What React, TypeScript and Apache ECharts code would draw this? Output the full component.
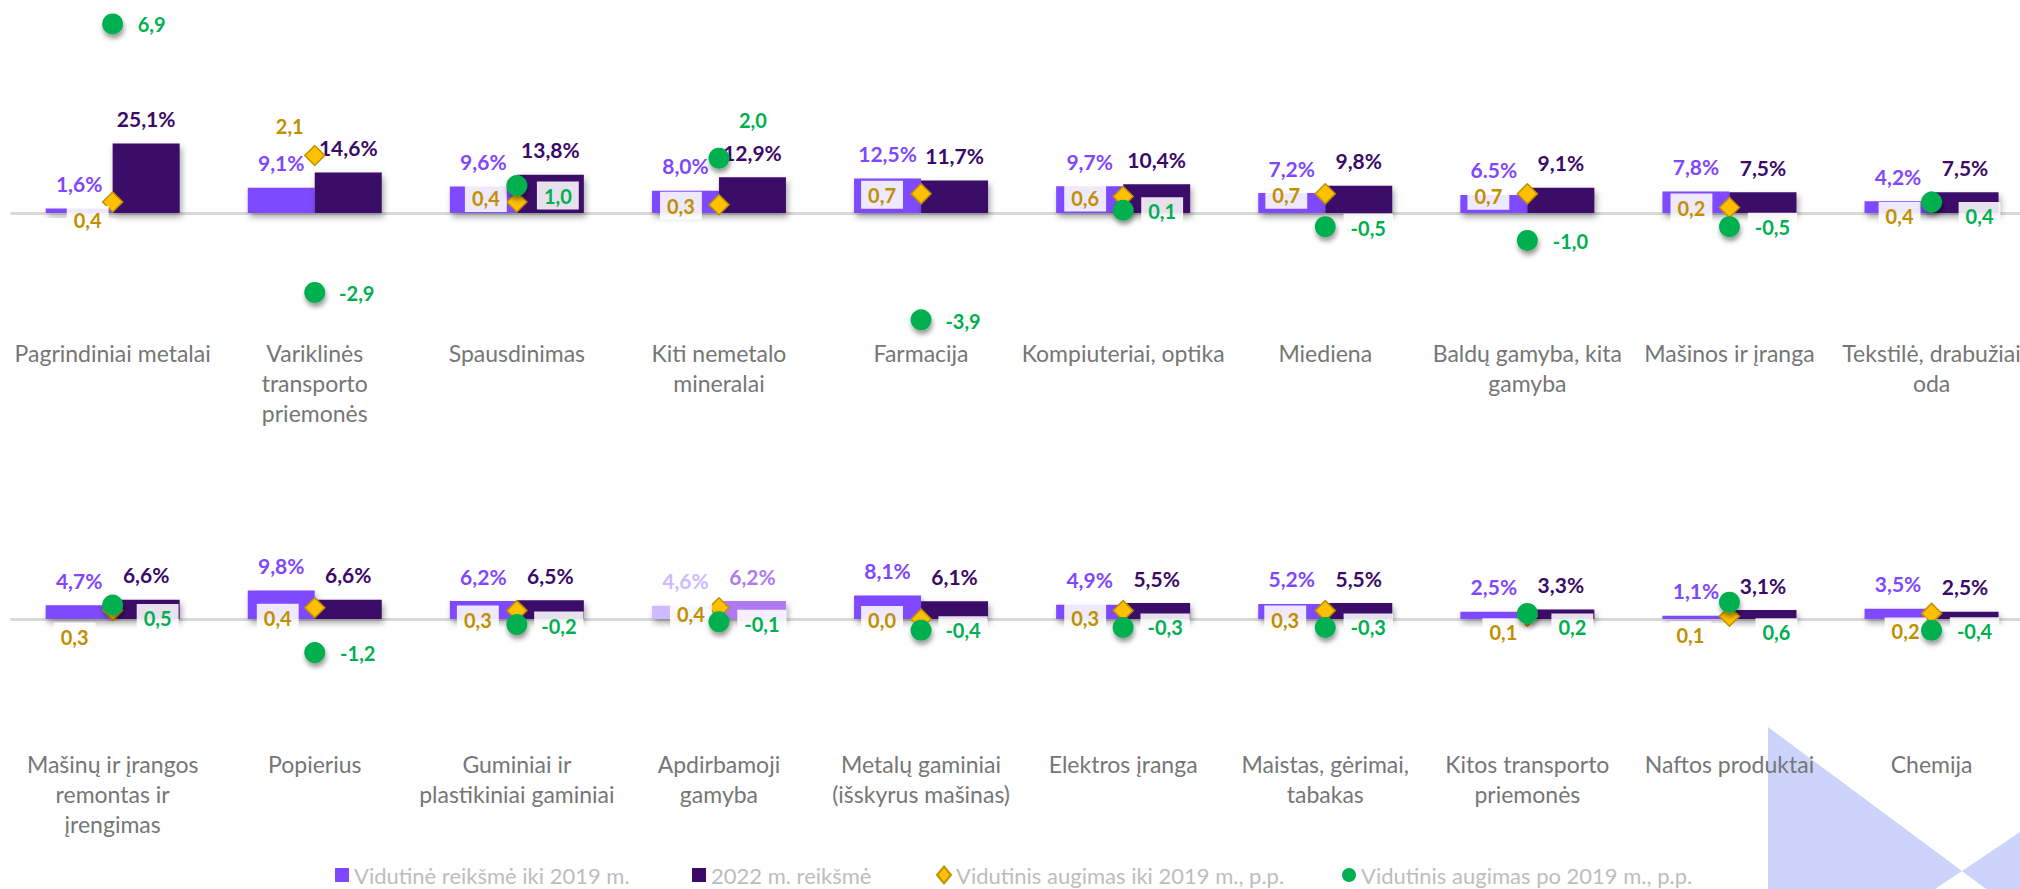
import React, { useEffect, useRef } from "react";
import * as echarts from "echarts";

// ---------- DATA ----------
const categoriesTop = [
  "Pagrindiniai metalai",
  "Variklinės\ntransporto\npriemonės",
  "Spausdinimas",
  "Kiti nemetalo\nmineralai",
  "Farmacija",
  "Kompiuteriai, optika",
  "Miediena",
  "Baldų gamyba, kita\ngamyba",
  "Mašinos ir įranga",
  "Tekstilė, drabužiai\noda",
];
const avgBefore2019Top = [1.6, 9.1, 9.6, 8.0, 12.5, 9.7, 7.2, 6.5, 7.8, 4.2];
const value2022Top = [25.1, 14.6, 13.8, 12.9, 11.7, 10.4, 9.8, 9.1, 7.5, 7.5];
const growthBefore2019Top = [0.4, 2.1, 0.4, 0.3, 0.7, 0.6, 0.7, 0.7, 0.2, 0.4];
const growthAfter2019Top = [6.9, -2.9, 1.0, 2.0, -3.9, 0.1, -0.5, -1.0, -0.5, 0.4];

const categoriesBottom = [
  "Mašinų ir įrangos\nremontas ir\nįrengimas",
  "Popierius",
  "Guminiai ir\nplastikiniai gaminiai",
  "Apdirbamoji\ngamyba",
  "Metalų gaminiai\n(išskyrus mašinas)",
  "Elektros įranga",
  "Maistas, gėrimai,\ntabakas",
  "Kitos transporto\npriemonės",
  "Naftos produktai",
  "Chemija",
];
const avgBefore2019Bottom = [4.7, 9.8, 6.2, 4.6, 8.1, 4.9, 5.2, 2.5, 1.1, 3.5];
const value2022Bottom = [6.6, 6.6, 6.5, 6.2, 6.1, 5.5, 5.5, 3.3, 3.1, 2.5];
const growthBefore2019Bottom = [0.3, 0.4, 0.3, 0.4, 0.0, 0.3, 0.3, 0.1, 0.1, 0.2];
const growthAfter2019Bottom = [0.5, -1.2, -0.2, -0.1, -0.4, -0.3, -0.3, 0.2, 0.6, -0.4];

const seriesNames = [
  "Vidutinė reikšmė iki 2019 m.",
  "2022 m. reikšmė",
  "Vidutinis augimas iki 2019 m., p.p.",
  "Vidutinis augimas po 2019 m., p.p.",
];

const highlightCategory = "Apdirbamoji\ngamyba";
const dotDecimalCategory = "Baldų gamyba, kita\ngamyba";

// ---------- LABEL LAYOUT (offsets of point labels, px) ----------
const diamondLabelOffsetTop = [[-25, 18], [-25, -29], [-31, -4], [-38, 1], [-39, 1], [-38, 1], [-39, 1], [-39, 2], [-38, 0], [-32, 14]];
const circleLabelOffsetTop = [[39, 0], [42, 1], [41, 10], [34, -38], [42, 1], [39, 1], [43, 1], [43, 1], [43, 0], [48, 14]];
const diamondLabelOffsetBottom = [[-38, 26], [-37, 10], [-39, 9], [-28, 6], [-39, 1], [-38, 7], [-40, 9], [-24, 16], [-39, 19], [-26, 18]];
const circleLabelOffsetBottom = [[45, 13], [43, 0], [42, 1], [43, 2], [42, 0], [42, 0], [43, 0], [45, 14], [47, 30], [43, 1]];

// ---------- STYLE ----------
const FONT = "Lato";
const C_LIGHT = "#7F48FF";
const C_DARK = "#3B0A68";
const C_HL_LIGHT = "#CDBBFF";
const C_HL_DARK = "#AF7AF0";
const C_GOLD = "#FFC000";
const C_GOLD_TXT = "#BF9000";
const C_GREEN = "#00B050";

const rows = [
  { top: 7.5, ptsPx: 27.4, barPx: 2.77, labelMargin: 15 },
  { top: 409, ptsPx: 28, barPx: 2.9, labelMargin: 18 },
];
const PTS_MIN = -4;
const PTS_MAX = 7.5;

const comma = (v: number) => v.toFixed(1).replace(".", ",");

function buildOption() {
  const grid: any[] = [];
  const xAxis: any[] = [];
  const yAxis: any[] = [];
  const series: any[] = [];

  const rowData = [
    { cats: categoriesTop, light: avgBefore2019Top, dark: value2022Top, gb: growthBefore2019Top, ga: growthAfter2019Top, dOff: diamondLabelOffsetTop, cOff: circleLabelOffsetTop },
    { cats: categoriesBottom, light: avgBefore2019Bottom, dark: value2022Bottom, gb: growthBefore2019Bottom, ga: growthAfter2019Bottom, dOff: diamondLabelOffsetBottom, cOff: circleLabelOffsetBottom },
  ];

  rows.forEach((r, ri) => {
    const d = rowData[ri];
    const height = (PTS_MAX - PTS_MIN) * r.ptsPx;
    grid.push({ left: 11.6, width: 2021, top: r.top, height, containLabel: false, outerBoundsMode: "none" });
    // label axis
    xAxis.push({
      type: "category",
      gridIndex: ri,
      data: d.cats,
      position: "bottom",
      axisLine: { show: false, onZero: false },
      axisTick: { show: false },
      axisLabel: {
        interval: 0,
        margin: r.labelMargin,
        fontFamily: FONT,
        fontSize: 23,
        lineHeight: 30,
        color: "#767676",
        hideOverlap: false,
      },
      splitLine: { show: false },
    });
    // baseline axis
    xAxis.push({
      type: "category",
      gridIndex: ri,
      data: d.cats,
      axisLine: { show: true, onZero: true, onZeroAxisIndex: ri * 2, lineStyle: { color: "#D9D9D9", width: 3 } },
      axisTick: { show: false },
      axisLabel: { show: false },
      splitLine: { show: false },
    });
    yAxis.push({ type: "value", gridIndex: ri, min: PTS_MIN, max: PTS_MAX, show: false, splitLine: { show: false } });
    yAxis.push({
      type: "value",
      gridIndex: ri,
      min: (PTS_MIN * r.ptsPx) / r.barPx,
      max: (PTS_MAX * r.ptsPx) / r.barPx,
      show: false,
      splitLine: { show: false },
    });

    const barShadow = { shadowColor: "rgba(0,0,0,0.35)", shadowBlur: 6, shadowOffsetX: 2, shadowOffsetY: 4 };
    const barLabel = (color: string) => ({
      show: true,
      position: "top",
      distance: 13,
      fontFamily: FONT,
      fontSize: 21,
      fontWeight: "bold",
      lineHeight: 24,
      color,
    });

    series.push({
      name: seriesNames[0],
      type: "bar",
      xAxisIndex: ri * 2,
      yAxisIndex: ri * 2 + 1,
      barWidth: 67,
      barGap: "0%",
      itemStyle: { color: C_LIGHT, ...barShadow },
      label: {
        ...barLabel(C_LIGHT),
        formatter: (p: any) => (d.cats[p.dataIndex] === dotDecimalCategory ? p.value.toFixed(1) : comma(p.value)) + "%",
      },
      data: d.light.map((v, i) =>
        d.cats[i] === highlightCategory ? { value: v, itemStyle: { color: C_HL_LIGHT }, label: { color: C_HL_LIGHT } } : v
      ),
      z: 2,
    });
    series.push({
      name: seriesNames[1],
      type: "bar",
      xAxisIndex: ri * 2,
      yAxisIndex: ri * 2 + 1,
      barWidth: 67,
      barGap: "0%",
      itemStyle: { color: C_DARK, ...barShadow },
      label: { ...barLabel(C_DARK), formatter: (p: any) => comma(p.value) + "%" },
      data: d.dark.map((v, i) =>
        d.cats[i] === highlightCategory ? { value: v, itemStyle: { color: C_HL_DARK }, label: { color: C_HL_DARK } } : v
      ),
      z: 2,
    });

    const ptLabel = (color: string) => ({
      show: true,
      position: "inside",
      fontFamily: FONT,
      fontSize: 20,
      fontWeight: "bold",
      lineHeight: 22,
      color,
      backgroundColor: "rgba(255,255,255,0.88)",
      padding: [3, 7],
      formatter: (p: any) => comma(p.value),
    });

    series.push({
      name: seriesNames[2],
      type: "scatter",
      xAxisIndex: ri * 2,
      yAxisIndex: ri * 2,
      symbol: "diamond",
      symbolSize: 20,
      itemStyle: { color: C_GOLD, borderColor: C_GOLD_TXT, borderWidth: 1.5, opacity: 1 },
      label: ptLabel(C_GOLD_TXT),
      data: d.gb.map((v, i) => ({ value: v, label: { offset: d.dOff[i] } })),
      z: 4,
    });
    series.push({
      name: seriesNames[3],
      type: "scatter",
      xAxisIndex: ri * 2,
      yAxisIndex: ri * 2,
      symbol: "circle",
      symbolSize: 21,
      itemStyle: { color: C_GREEN, opacity: 1, shadowColor: "rgba(0,0,0,0.4)", shadowBlur: 5, shadowOffsetX: 1, shadowOffsetY: 4 },
      label: ptLabel(C_GREEN),
      data: d.ga.map((v, i) => ({ value: v, label: { offset: d.cOff[i] } })),
      z: 5,
    });
  });

  const legendBase = {
    top: 863,
    padding: 0,
    itemWidth: 14,
    itemHeight: 14,
    selectedMode: false,
    textStyle: { fontFamily: FONT, fontSize: 22, color: "#BDBDBD", lineHeight: 24 },
  };

  return {
    animation: false,
    backgroundColor: "#FFFFFF",
    textStyle: { fontFamily: FONT },
    grid,
    xAxis,
    yAxis,
    series,
    legend: [
      { ...legendBase, left: 335, data: [{ name: seriesNames[0], icon: "rect" }] },
      { ...legendBase, left: 692, data: [{ name: seriesNames[1], icon: "rect" }] },
      { ...legendBase, left: 936, itemWidth: 14, itemHeight: 17, data: [{ name: seriesNames[2], icon: "diamond" }] },
      { ...legendBase, left: 1342, data: [{ name: seriesNames[3], icon: "circle" }] },
    ],
    graphic: [
      {
        type: "polygon",
        z: -10,
        silent: true,
        shape: { points: [[1768, 727], [1962, 871], [1935, 889], [1768, 889]] },
        style: { fill: "#CDD4FC" },
      },
      {
        type: "polygon",
        z: -10,
        silent: true,
        shape: { points: [[1962, 871], [2020, 832], [2020, 889], [1986, 889]] },
        style: { fill: "#CDD4FC" },
      },
    ],
  };
}

export default function App() {
  const ref = useRef<HTMLDivElement>(null);
  useEffect(() => {
    if (!ref.current) return;
    const chart = echarts.init(ref.current, null, { renderer: "svg" });
    chart.setOption(buildOption() as any);
    return () => chart.dispose();
  }, []);
  return <div ref={ref} style={{ position: "fixed", left: 0, top: 0, width: 2020, height: 889 }} />;
}
